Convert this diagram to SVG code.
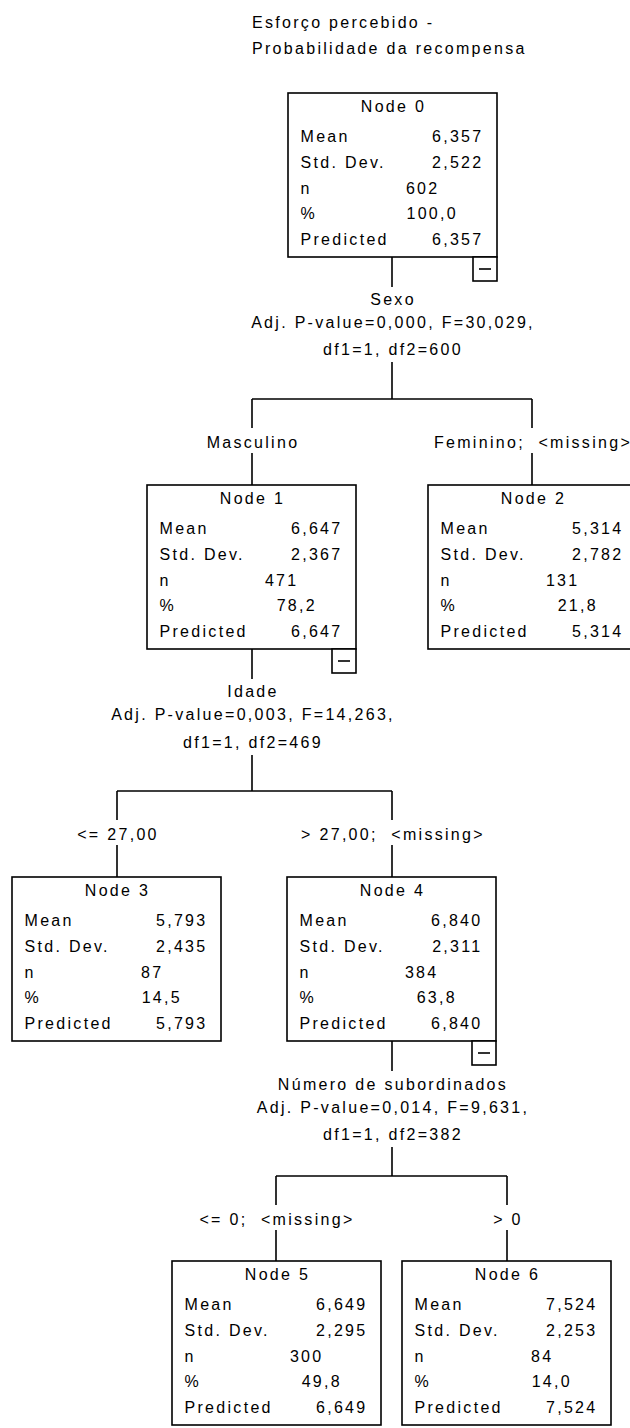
<svg xmlns="http://www.w3.org/2000/svg" width="630" height="1428" viewBox="0 0 630 1428" xml:space="preserve">
  <style>
    .t { font-family: "Liberation Sans", Arial, sans-serif; font-size: 16px; letter-spacing: 2.3px; fill: #000; white-space: pre; }
    .c { text-anchor: middle; }
    .r { text-anchor: end; }
    .box { fill: #fff; stroke: #000; stroke-width: 1.6; }
    .ln { fill: none; stroke: #000; stroke-width: 1.6; }
  </style>
  <defs>
    <!-- collapse toggle drawn under a node that has children -->
    <g id="toggle">
      <rect class="box" x="185" y="164" width="24" height="24"/>
      <line class="ln" x1="191" y1="176" x2="203" y2="176"/>
    </g>
  </defs>
  <rect width="630" height="1428" fill="#fff"/>

  <!-- title -->
  <g id="title">
    <text class="t" x="252" y="28">Esforço percebido -</text>
    <text class="t" x="252" y="54">Probabilidade da recompensa</text>
  </g>

  <!-- connectors and split labels -->
  <g id="connectors">
    <path class="ln" d="M392 257V287M392 362V399M252 399H532M252 399V428M252 453V485M532 399V428M532 453V485"/>
    <path class="ln" d="M252 649V679M252 755V791M117 791H392M117 791V820M117 845V877M392 791V820M392 845V877"/>
    <path class="ln" d="M392 1041V1071M392 1147V1176M276 1176H507M276 1176V1205M276 1230V1261M507 1176V1205M507 1230V1261"/>

    <text class="t c" x="393" y="305">Sexo</text>
    <text class="t c" x="393" y="328">Adj. P-value=0,000, F=30,029,</text>
    <text class="t c" x="393" y="355">df1=1, df2=600</text>
    <text class="t c" x="253" y="448">Masculino</text>
    <text class="t c" x="533" y="448">Feminino;  &lt;missing&gt;</text>

    <text class="t c" x="253" y="697">Idade</text>
    <text class="t c" x="253" y="720">Adj. P-value=0,003, F=14,263,</text>
    <text class="t c" x="253" y="748">df1=1, df2=469</text>
    <text class="t c" x="118" y="840">&lt;= 27,00</text>
    <text class="t c" x="393" y="840">&gt; 27,00;  &lt;missing&gt;</text>

    <text class="t c" x="393" y="1090">Número de subordinados</text>
    <text class="t c" x="393" y="1113">Adj. P-value=0,014, F=9,631,</text>
    <text class="t c" x="393" y="1140">df1=1, df2=382</text>
    <text class="t c" x="277" y="1225">&lt;= 0;  &lt;missing&gt;</text>
    <text class="t c" x="508" y="1225">&gt; 0</text>
  </g>

  <g id="node0" transform="translate(288 93)">
    <rect class="box" width="209" height="164"/>
    <text class="t c" x="105.5" y="19">Node 0</text>
    <text class="t" x="12.5" y="49">Mean</text><text class="t r" x="195.5" y="49">6,357</text>
    <text class="t" x="12.5" y="75">Std. Dev.</text><text class="t r" x="195.5" y="75">2,522</text>
    <text class="t" x="12.5" y="101">n</text><text class="t r" x="151.5" y="101">602</text>
    <text class="t" x="12.5" y="126">%</text><text class="t r" x="170" y="126">100,0</text>
    <text class="t" x="12.5" y="152">Predicted</text><text class="t r" x="195.5" y="152">6,357</text>
    <use href="#toggle"/>
  </g>

  <g id="node1" transform="translate(147 485)">
    <rect class="box" width="209" height="164"/>
    <text class="t c" x="105.5" y="19">Node 1</text>
    <text class="t" x="12.5" y="49">Mean</text><text class="t r" x="195.5" y="49">6,647</text>
    <text class="t" x="12.5" y="75">Std. Dev.</text><text class="t r" x="195.5" y="75">2,367</text>
    <text class="t" x="12.5" y="101">n</text><text class="t r" x="151.5" y="101">471</text>
    <text class="t" x="12.5" y="126">%</text><text class="t r" x="170" y="126">78,2</text>
    <text class="t" x="12.5" y="152">Predicted</text><text class="t r" x="195.5" y="152">6,647</text>
    <use href="#toggle"/>
  </g>

  <g id="node2" transform="translate(428 485)">
    <rect class="box" width="209" height="164"/>
    <text class="t c" x="105.5" y="19">Node 2</text>
    <text class="t" x="12.5" y="49">Mean</text><text class="t r" x="195.5" y="49">5,314</text>
    <text class="t" x="12.5" y="75">Std. Dev.</text><text class="t r" x="195.5" y="75">2,782</text>
    <text class="t" x="12.5" y="101">n</text><text class="t r" x="151.5" y="101">131</text>
    <text class="t" x="12.5" y="126">%</text><text class="t r" x="170" y="126">21,8</text>
    <text class="t" x="12.5" y="152">Predicted</text><text class="t r" x="195.5" y="152">5,314</text>
  </g>

  <g id="node3" transform="translate(12 877)">
    <rect class="box" width="209" height="164"/>
    <text class="t c" x="105.5" y="19">Node 3</text>
    <text class="t" x="12.5" y="49">Mean</text><text class="t r" x="195.5" y="49">5,793</text>
    <text class="t" x="12.5" y="75">Std. Dev.</text><text class="t r" x="195.5" y="75">2,435</text>
    <text class="t" x="12.5" y="101">n</text><text class="t r" x="151.5" y="101">87</text>
    <text class="t" x="12.5" y="126">%</text><text class="t r" x="170" y="126">14,5</text>
    <text class="t" x="12.5" y="152">Predicted</text><text class="t r" x="195.5" y="152">5,793</text>
  </g>

  <g id="node4" transform="translate(287 877)">
    <rect class="box" width="209" height="164"/>
    <text class="t c" x="105.5" y="19">Node 4</text>
    <text class="t" x="12.5" y="49">Mean</text><text class="t r" x="195.5" y="49">6,840</text>
    <text class="t" x="12.5" y="75">Std. Dev.</text><text class="t r" x="195.5" y="75">2,311</text>
    <text class="t" x="12.5" y="101">n</text><text class="t r" x="151.5" y="101">384</text>
    <text class="t" x="12.5" y="126">%</text><text class="t r" x="170" y="126">63,8</text>
    <text class="t" x="12.5" y="152">Predicted</text><text class="t r" x="195.5" y="152">6,840</text>
    <use href="#toggle"/>
  </g>

  <g id="node5" transform="translate(172 1261)">
    <rect class="box" width="209" height="164"/>
    <text class="t c" x="105.5" y="19">Node 5</text>
    <text class="t" x="12.5" y="49">Mean</text><text class="t r" x="195.5" y="49">6,649</text>
    <text class="t" x="12.5" y="75">Std. Dev.</text><text class="t r" x="195.5" y="75">2,295</text>
    <text class="t" x="12.5" y="101">n</text><text class="t r" x="151.5" y="101">300</text>
    <text class="t" x="12.5" y="126">%</text><text class="t r" x="170" y="126">49,8</text>
    <text class="t" x="12.5" y="152">Predicted</text><text class="t r" x="195.5" y="152">6,649</text>
  </g>

  <g id="node6" transform="translate(402 1261)">
    <rect class="box" width="209" height="164"/>
    <text class="t c" x="105.5" y="19">Node 6</text>
    <text class="t" x="12.5" y="49">Mean</text><text class="t r" x="195.5" y="49">7,524</text>
    <text class="t" x="12.5" y="75">Std. Dev.</text><text class="t r" x="195.5" y="75">2,253</text>
    <text class="t" x="12.5" y="101">n</text><text class="t r" x="151.5" y="101">84</text>
    <text class="t" x="12.5" y="126">%</text><text class="t r" x="170" y="126">14,0</text>
    <text class="t" x="12.5" y="152">Predicted</text><text class="t r" x="195.5" y="152">7,524</text>
  </g>
</svg>
